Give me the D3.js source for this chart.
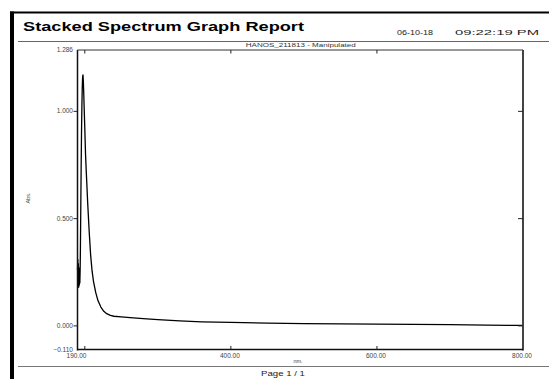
<!DOCTYPE html>
<html><head><meta charset="utf-8">
<script src="https://cdn.jsdelivr.net/npm/d3@7/dist/d3.min.js"></script>
<style>body{margin:0;background:#fff}svg{display:block;font-family:"Liberation Sans",Arial,sans-serif}</style>
</head><body>
<script>
const reportTitle = "Stacked Spectrum Graph Report";
const reportDate = "06-10-18";
const reportTime = "09:22:19 PM";
const seriesName = "HANOS_211813 - Manipulated";
const xTitle = "nm.";
const yTitle = "Abs.";
const pageLabel = "Page 1 / 1";
const xDomain = [190, 800];
const yDomain = [-0.110, 1.286];
const xTickValues = [200, 400, 600];
const xLabelValues = [190, 400, 600, 800];
const yTickValues = [0, 0.5, 1.0];
const yLabelValues = [-0.110, 0, 0.5, 1.0, 1.286];
const wavelengths = [190, 190.4, 190.8, 191.2, 191.6, 192, 192.4, 192.8, 193.2, 193.6, 194, 194.5, 195, 195.5, 196, 196.5, 197, 197.5, 198, 198.5, 199, 200, 201, 202, 204, 206, 208, 210, 212, 215, 218, 222, 226, 230, 235, 240, 250, 262, 280, 300, 330, 360, 400, 450, 500, 550, 600, 650, 700, 750, 800];
const absorbance = [0.26, 0.31, 0.20, 0.29, 0.18, 0.27, 0.19, 0.24, 0.20, 0.26, 0.36, 0.55, 0.74, 0.90, 1.02, 1.11, 1.16, 1.17, 1.14, 1.09, 1.03, 0.92, 0.80, 0.72, 0.57, 0.44, 0.33, 0.255, 0.205, 0.155, 0.118, 0.088, 0.068, 0.057, 0.049, 0.045, 0.042, 0.039, 0.034, 0.029, 0.023, 0.019, 0.016, 0.013, 0.011, 0.0095, 0.0085, 0.007, 0.0055, 0.004, 0.002];

const W = 549, H = 379;
const svg = d3.select("body").append("svg").attr("width", W).attr("height", H);

// page frame
svg.append("rect").attr("x", 10).attr("y", 11.5).attr("width", 4).attr("height", H - 11.5).attr("fill", "#000");
svg.append("rect").attr("x", 10).attr("y", 11.5).attr("width", W - 10).attr("height", 2).attr("fill", "#000");

// header
svg.append("text").attr("x", 23).attr("y", 31).attr("font-size", 13).attr("font-weight", "bold")
  .attr("textLength", 281).attr("lengthAdjust", "spacingAndGlyphs").attr("fill", "#000").text(reportTitle);
svg.append("text").attr("x", 397).attr("y", 35).attr("font-size", 7).attr("fill", "#222")
  .attr("textLength", 36).attr("lengthAdjust", "spacingAndGlyphs").text(reportDate);
svg.append("text").attr("x", 455).attr("y", 35).attr("font-size", 7).attr("fill", "#222")
  .attr("textLength", 84).attr("lengthAdjust", "spacingAndGlyphs").text(reportTime);
svg.append("line").attr("x1", 18).attr("x2", W).attr("y1", 41.5).attr("y2", 41.5).attr("stroke", "#666").attr("stroke-width", 1);

// footer
svg.append("line").attr("x1", 18).attr("x2", W).attr("y1", 366.5).attr("y2", 366.5).attr("stroke", "#777").attr("stroke-width", 1);
svg.append("text").attr("x", 283).attr("y", 376).attr("text-anchor", "middle").attr("font-size", 7).attr("fill", "#222")
  .attr("textLength", 44).attr("lengthAdjust", "spacingAndGlyphs").text(pageLabel);

// plot area
const L = 77.5, R = 523, T = 50, B = 349.5;
const x = d3.scaleLinear().domain(xDomain).range([L, R]);
const y = d3.scaleLinear().domain(yDomain).range([B, T]);

svg.append("text").attr("x", (L + R) / 2 + 0.5).attr("y", 47).attr("text-anchor", "middle").attr("font-size", 6.2).attr("fill", "#333")
  .attr("textLength", 110).attr("lengthAdjust", "spacingAndGlyphs").text(seriesName);

// curve
const line = d3.line().x((d, i) => x(wavelengths[i])).y(d => y(d));
svg.append("path").datum(absorbance).attr("d", line).attr("fill", "none").attr("stroke", "#000").attr("stroke-width", 1.3).attr("stroke-linejoin", "round");

// frame
svg.append("line").attr("x1", L).attr("x2", R).attr("y1", T).attr("y2", T).attr("stroke", "#333").attr("stroke-width", 1);
svg.append("line").attr("x1", R).attr("x2", R).attr("y1", T).attr("y2", B + 1).attr("stroke", "#444").attr("stroke-width", 2);
svg.append("line").attr("x1", L).attr("x2", L).attr("y1", T).attr("y2", B + 1).attr("stroke", "#111").attr("stroke-width", 1.5);
svg.append("line").attr("x1", L).attr("x2", R).attr("y1", B).attr("y2", B).attr("stroke", "#111").attr("stroke-width", 1.5);

// ticks
const g = svg.append("g").attr("stroke", "#222").attr("stroke-width", 1);
xTickValues.forEach(v => {
  g.append("line").attr("x1", x(v)).attr("x2", x(v)).attr("y1", B).attr("y2", B - 3.5);
  g.append("line").attr("x1", x(v)).attr("x2", x(v)).attr("y1", T).attr("y2", T + 3.5);
});
yTickValues.forEach(v => {
  g.append("line").attr("x1", L - 4).attr("x2", L).attr("y1", y(v)).attr("y2", y(v));
  g.append("line").attr("x1", R - 5).attr("x2", R).attr("y1", y(v)).attr("y2", y(v));
});

// tick labels
const fmt = d3.format(".3f");
yLabelValues.forEach(v => {
  svg.append("text").attr("x", L - 4.5).attr("y", y(v) + 2).attr("text-anchor", "end").attr("font-size", 6.5).attr("fill", "#444").text(fmt(v));
});
xLabelValues.forEach(v => {
  svg.append("text").attr("x", x(v) - 1).attr("y", 358).attr("text-anchor", "middle").attr("font-size", 6.5).attr("fill", "#444").text(d3.format(".2f")(v));
});
svg.append("text").attr("x", 298).attr("y", 362.5).attr("text-anchor", "middle").attr("font-size", 5.5).attr("fill", "#444").text(xTitle);
svg.append("text").attr("transform", "translate(30,198) rotate(-90)").attr("text-anchor", "middle").attr("font-size", 5.5).attr("fill", "#444").text(yTitle);
</script>
</body></html>
